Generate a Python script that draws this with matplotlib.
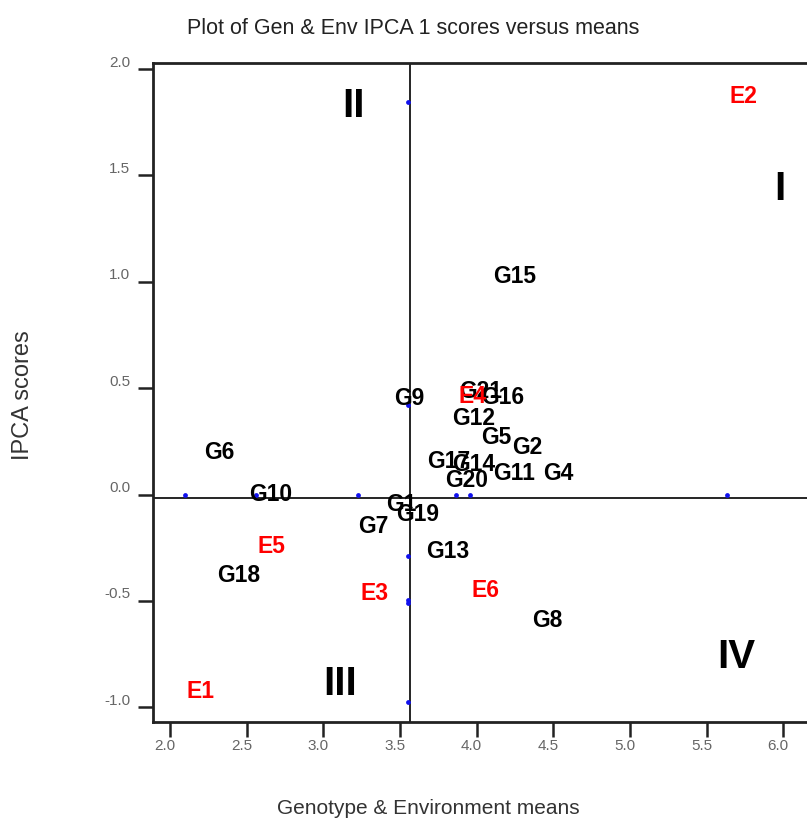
import matplotlib.pyplot as plt
import matplotlib.transforms as mtransforms

# genotype means and first IPCA scores
gen_names = ['G1', 'G2', 'G4', 'G5', 'G6', 'G7', 'G8', 'G9', 'G10', 'G11',
             'G12', 'G13', 'G14', 'G15', 'G16', 'G17', 'G18', 'G19', 'G20', 'G21']
gen_means = [3.507, 4.332, 4.531, 4.131, 2.324, 3.326, 4.46, 3.558, 2.654, 4.243,
             3.983, 3.81, 3.983, 4.25, 4.172, 3.818, 2.445, 3.618, 3.935, 4.029]
gen_ipca = [-0.049, 0.221, 0.101, 0.27, 0.197, -0.148, -0.594, 0.452, 0.0, 0.101,
            0.359, -0.266, 0.14, 1.027, 0.455, 0.154, -0.382, -0.092, 0.064, 0.482]

# environment means and first IPCA scores
env_names = ['E1', 'E2', 'E3', 'E4', 'E5', 'E6']
env_means = [2.20, 5.74, 3.335, 3.97, 2.663, 4.06]
env_ipca = [-0.928, 1.87, -0.465, 0.46, -0.243, -0.453]

# quadrant labels
quad_names = ['I', 'II', 'III', 'IV']
quad_x = [5.979, 3.198, 3.109, 5.696]
quad_y = [1.436, 1.826, -0.89, -0.762]

# markers lying on the reference lines
dot_x = [2.098, 2.561, 3.228, 3.866, 3.957, 5.633,
         3.553, 3.553, 3.553, 3.553, 3.553, 3.553]
dot_y = [0.0, 0.0, 0.0, -0.002, -0.002, 0.0,
         1.844, 0.421, -0.289, -0.496, -0.51, -0.975]

grand_mean = 3.568
ipca_mean = -0.015

plt.rcParams['font.family'] = ['Liberation Sans', 'DejaVu Sans']

fig = plt.figure(figsize=(8.07, 8.22), dpi=100)
ax = fig.add_axes([0.1892, 0.1217, 0.8193, 0.8013])

ax.set_xlim(1.887, 6.2)
ax.set_ylim(-1.069, 2.027)

ax.axvline(grand_mean, color='black', lw=1.2, zorder=1)
ax.axhline(ipca_mean, color='black', lw=1.2, zorder=1)

ax.scatter(dot_x, dot_y, s=12, color='#1010ee', zorder=2, linewidths=0)

for name, x, y in zip(gen_names, gen_means, gen_ipca):
    ax.text(x, y, name, color='black', fontsize=16.5, fontweight='bold',
            ha='center', va='center', zorder=3)
for name, x, y in zip(env_names, env_means, env_ipca):
    ax.text(x, y, name, color='#ff0000', fontsize=16.5, fontweight='bold',
            ha='center', va='center', zorder=4)
for name, x, y in zip(quad_names, quad_x, quad_y):
    ax.text(x, y, name, color='black', fontsize=29, fontweight='bold',
            ha='center', va='center', zorder=3)

ax.set_xticks([2.0, 2.5, 3.0, 3.5, 4.0, 4.5, 5.0, 5.5, 6.0])
ax.set_yticks([-1.0, -0.5, 0.0, 0.5, 1.0, 1.5, 2.0])
ax.set_xticklabels(['2.0', '2.5', '3.0', '3.5', '4.0', '4.5', '5.0', '5.5', '6.0'])
ax.set_yticklabels(['-1.0', '-0.5', '0.0', '0.5', '1.0', '1.5', '2.0'])
ax.tick_params(axis='both', direction='out', length=11, width=1.8,
               labelsize=11, labelcolor='#666666', color='#222222')
ax.tick_params(axis='y', pad=5)
ax.tick_params(axis='x', pad=1)

# y labels sit a little above their ticks, x labels a little left
up = mtransforms.ScaledTranslation(0, 8 / 100, fig.dpi_scale_trans)
for lab in ax.get_yticklabels():
    lab.set_transform(lab.get_transform() + up)
left = mtransforms.ScaledTranslation(-5 / 100, 0, fig.dpi_scale_trans)
for lab in ax.get_xticklabels():
    lab.set_transform(lab.get_transform() + left)

for side in ['left', 'bottom', 'top']:
    ax.spines[side].set_linewidth(2)
    ax.spines[side].set_color('#222222')
ax.spines['right'].set_visible(False)

fig.text(413 / 807, 1 - 28 / 822, 'Plot of Gen & Env IPCA 1 scores versus means',
         ha='center', va='center', fontsize=15.5, color='#222222')
fig.text(428 / 807, 1 - 808 / 822, 'Genotype & Environment means',
         ha='center', va='center', fontsize=15, color='#333333')
fig.text(23 / 807, 1 - 395 / 822, 'IPCA scores', rotation=90,
         ha='center', va='center', fontsize=17, color='#333333')

fig.savefig('out.png', dpi=100)
